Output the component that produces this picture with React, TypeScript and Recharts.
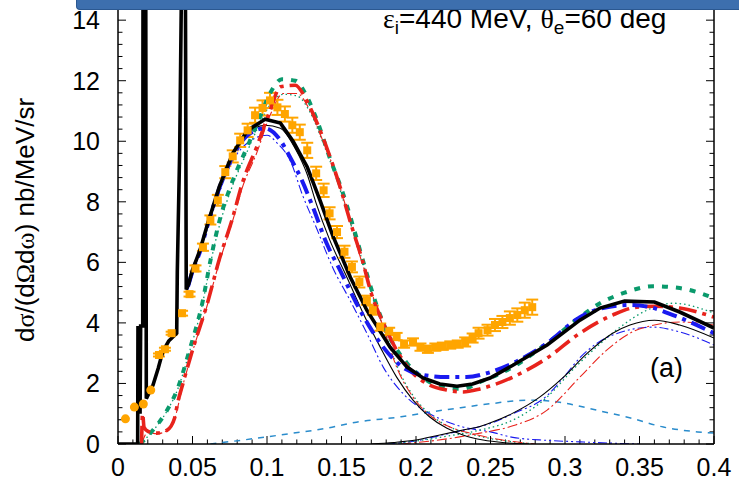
import React from 'react';
import { ComposedChart, Line, Scatter, XAxis, YAxis, ErrorBar, ReferenceLine } from 'recharts';

// ---------- data ----------
const xTicks = [0, 0.05, 0.1, 0.15, 0.2, 0.25, 0.3, 0.35, 0.4];
const yTicks = [0, 2, 4, 6, 8, 10, 12, 14];
const xMinorTicks = [0.01, 0.02, 0.03, 0.04, 0.06, 0.07, 0.08, 0.09, 0.11, 0.12, 0.13, 0.14, 0.16, 0.17, 0.18, 0.19, 0.21, 0.22, 0.23, 0.24, 0.26, 0.27, 0.28, 0.29, 0.31, 0.32, 0.33, 0.34, 0.36, 0.37, 0.38, 0.39];
const yMinorTicks = [0.4, 0.8, 1.2, 1.6, 2.4, 2.8, 3.2, 3.6, 4.4, 4.8, 5.2, 5.6, 6.4, 6.8, 7.2, 7.6, 8.4, 8.8, 9.2, 9.6, 10.4, 10.8, 11.2, 11.6, 12.4, 12.8, 13.2, 13.6, 14.4];

// total, full model (thick black)
const totalBlack = [
  [0, 0], [0.0132, 0], [0.0134, 3.9], [0.0148, 1.0], [0.0152, 3.9], [0.0166, 3.9], [0.0168, 16],
  [0.0186, 16], [0.019, 1.5],
  [0.0215, 1.75], [0.0235, 1.95], [0.027, 2.5], [0.03, 3.05], [0.034, 3.4], [0.0394, 3.66],
  [0.0398, 5.7], [0.0414, 9.7], [0.0428, 16], [0.0452, 16], [0.0458, 5.1], [0.0475, 5.3],
  [0.05, 5.75], [0.055, 6.4], [0.06, 7.25], [0.068, 8.5], [0.077, 9.6], [0.087, 10.36],
  [0.0987, 10.73], [0.109, 10.6], [0.1175, 10.0], [0.127, 9.15], [0.1356, 8.05], [0.144, 6.9],
  [0.156, 5.5], [0.167, 4.42], [0.1826, 3.2], [0.194, 2.54], [0.2047, 2.18], [0.216, 1.98],
  [0.2275, 1.91], [0.238, 1.98], [0.2497, 2.18], [0.265, 2.6], [0.288, 3.27], [0.31, 4.09],
  [0.3235, 4.49], [0.34, 4.72], [0.36, 4.69], [0.377, 4.36], [0.4, 3.83],
];
const totalRed = [
  [0.0158, 0], [0.0165, 1.0], [0.0175, 0.55], [0.02, 0.42], [0.026, 0.36], [0.033, 0.46],
  [0.038, 0.86], [0.04, 1.35], [0.0436, 2.0], [0.05, 3.1], [0.06, 4.65], [0.068, 6.1],
  [0.0765, 7.4], [0.084, 8.7], [0.093, 9.8], [0.102, 11.0], [0.109, 11.8], [0.119, 11.85],
  [0.1255, 11.45], [0.131, 10.9], [0.14, 9.8], [0.149, 8.5], [0.157, 7.16], [0.164, 6.07],
  [0.17, 4.98], [0.178, 4.0], [0.187, 3.1], [0.198, 2.34], [0.209, 1.95], [0.2208, 1.78],
  [0.2315, 1.72], [0.243, 1.82], [0.265, 2.21], [0.288, 2.84], [0.31, 3.66], [0.332, 4.26],
  [0.348, 4.52], [0.36, 4.55], [0.377, 4.49], [0.4, 4.19],
];
const totalGreen = [
  [0.0148, 0], [0.0235, 0.46], [0.033, 1.12], [0.0396, 1.78], [0.048, 3.1], [0.057, 4.75],
  [0.062, 6.05], [0.068, 7.35], [0.077, 8.7], [0.0866, 9.8], [0.0953, 10.8], [0.102, 11.58],
  [0.11, 12.05], [0.119, 12.0], [0.127, 11.45], [0.1335, 10.7], [0.142, 9.47], [0.151, 8.28],
  [0.158, 7.16], [0.163, 6.3], [0.174, 4.52], [0.18, 3.76], [0.194, 2.67], [0.205, 2.18],
  [0.218, 1.88], [0.231, 1.82], [0.243, 2.05], [0.265, 2.54], [0.288, 3.33], [0.31, 4.19],
  [0.3235, 4.65], [0.339, 4.98], [0.359, 5.21], [0.377, 5.15], [0.4, 4.82],
];
const totalBlue = [
  [0.047, 5.2], [0.05, 5.7], [0.055, 6.35], [0.06, 7.2], [0.068, 8.45], [0.077, 9.5],
  [0.087, 10.2], [0.0987, 10.43], [0.109, 10.03], [0.1155, 9.47], [0.1235, 8.7], [0.131, 7.8],
  [0.14, 6.63], [0.149, 5.74], [0.16, 4.65], [0.169, 3.86], [0.178, 3.2], [0.191, 2.54],
  [0.205, 2.28], [0.2208, 2.21], [0.234, 2.21], [0.2477, 2.34], [0.265, 2.67], [0.288, 3.33],
  [0.31, 4.19], [0.3255, 4.49], [0.3436, 4.59], [0.357, 4.52], [0.3725, 4.26], [0.4, 3.66],
];

// quasi-elastic components (thin)
const qeBlack = [
  [0.047, 5.2], [0.05, 5.75], [0.055, 6.4], [0.06, 7.25], [0.068, 8.5], [0.077, 9.55],
  [0.087, 10.25], [0.0987, 10.53], [0.109, 10.43], [0.119, 9.75], [0.127, 8.9], [0.133, 7.95],
  [0.142, 6.75], [0.1537, 5.5], [0.1645, 4.32], [0.176, 3.2], [0.187, 2.21], [0.198, 1.45],
  [0.209, 0.9], [0.2208, 0.52], [0.2315, 0.3], [0.245, 0.13], [0.26, 0.04], [0.275, 0],
];
const qeRed = [
  [0.0158, 0], [0.02, 0.38], [0.026, 0.34], [0.033, 0.44], [0.038, 0.84], [0.0436, 1.95],
  [0.05, 3.05], [0.06, 4.6], [0.068, 6.0], [0.0765, 7.3], [0.084, 8.55], [0.093, 9.6],
  [0.102, 10.85], [0.111, 11.58], [0.12, 11.58], [0.129, 11.0], [0.1376, 10.0], [0.147, 8.8],
  [0.156, 7.3], [0.16, 6.6], [0.169, 5.2], [0.178, 3.86], [0.187, 2.54], [0.198, 1.55],
  [0.209, 0.96], [0.2228, 0.56], [0.236, 0.36], [0.25, 0.2], [0.265, 0.08], [0.28, 0],
];
const qeGreen = [
  [0.0148, 0], [0.0235, 0.44], [0.033, 1.1], [0.0396, 1.75], [0.048, 3.05], [0.057, 4.7],
  [0.062, 5.95], [0.068, 7.2], [0.077, 8.55], [0.0866, 9.65], [0.0953, 10.6], [0.102, 11.2],
  [0.111, 11.55], [0.12, 11.5], [0.129, 10.95], [0.1376, 9.95], [0.147, 8.7], [0.156, 7.3],
  [0.165, 5.9], [0.174, 4.4], [0.18, 3.6], [0.187, 2.6], [0.198, 1.6], [0.209, 1.0],
  [0.2228, 0.56], [0.236, 0.34], [0.25, 0.18], [0.265, 0.07], [0.28, 0],
];
const qeBlue = [
  [0.047, 5.1], [0.05, 5.6], [0.06, 7.1], [0.068, 8.3], [0.077, 9.35], [0.087, 9.95],
  [0.1, 10.2], [0.107, 9.93], [0.1155, 9.37], [0.124, 8.2], [0.1335, 7.1], [0.14, 6.3],
  [0.144, 5.84], [0.1557, 4.75], [0.167, 3.66], [0.178, 2.54], [0.191, 1.68], [0.205, 1.12],
  [0.218, 0.79], [0.2315, 0.56], [0.25, 0.4], [0.265, 0.22], [0.288, 0.12], [0.31, 0.07],
  [0.33, 0.03], [0.35, 0],
];

// delta components (thin)
const deltaBlack = [
  [0.17, 0], [0.185, 0.05], [0.2, 0.13], [0.216, 0.3], [0.2315, 0.46], [0.243, 0.58],
  [0.25, 0.7], [0.265, 1.02], [0.283, 1.55], [0.299, 2.21], [0.315, 3.0], [0.332, 3.66],
  [0.3436, 3.93], [0.36, 4.09], [0.377, 3.93], [0.4, 3.5],
];
const deltaRed = [
  [0.19, 0], [0.21, 0.1], [0.225, 0.2], [0.243, 0.36], [0.265, 0.6], [0.288, 1.12],
  [0.31, 2.21], [0.328, 3.1], [0.3436, 3.66], [0.36, 3.93], [0.377, 4.03], [0.4, 3.93],
];
const deltaGreen = [
  [0.18, 0], [0.2, 0.1], [0.22, 0.25], [0.243, 0.46], [0.265, 0.79], [0.288, 1.55],
  [0.305, 2.44], [0.321, 3.2], [0.337, 3.86], [0.355, 4.42], [0.3725, 4.65], [0.4, 4.32],
];
const deltaBlue = [
  [0.18, 0], [0.2, 0.1], [0.216, 0.28], [0.2315, 0.45], [0.25, 0.68], [0.265, 1.0],
  [0.288, 1.6], [0.299, 2.2], [0.31, 2.85], [0.332, 3.6], [0.359, 3.86], [0.377, 3.7], [0.4, 3.27],
];

// broad component (light blue dashed)
const broadComp = [
  [0.062, 0], [0.09, 0.17], [0.115, 0.34], [0.14, 0.52], [0.16, 0.72], [0.19, 0.9],
  [0.205, 1.02], [0.23, 1.2], [0.25, 1.33], [0.275, 1.45], [0.29, 1.42], [0.3, 1.35],
  [0.321, 1.12], [0.344, 0.86], [0.366, 0.56], [0.389, 0.4], [0.4, 0.36],
];

// experimental data [x, y, err]
const expLow = [
  [0.005, 0.83, 0], [0.011, 1.22, 0], [0.017, 1.32, 0], [0.022, 1.78, 0],
];
const expData = [
  [0.0275, 2.94, 0.05], [0.0315, 3.13, 0.05], [0.036, 3.66, 0.05], [0.043, 4.32, 0.08],
  [0.048, 4.95, 0.08], [0.052, 5.8, 0.1], [0.057, 6.5, 0.12], [0.062, 7.4, 0.15],
  [0.067, 8.05, 0.18], [0.072, 8.98, 0.2], [0.077, 9.5, 0.2], [0.082, 10.03, 0.22],
  [0.087, 10.36, 0.22], [0.092, 10.86, 0.25], [0.097, 11.1, 0.25], [0.102, 11.35, 0.25],
  [0.107, 11.12, 0.25], [0.112, 10.9, 0.25], [0.117, 10.53, 0.25], [0.122, 10.3, 0.25],
  [0.127, 9.7, 0.25], [0.133, 8.94, 0.22], [0.138, 8.38, 0.22], [0.142, 7.62, 0.2],
  [0.147, 7.0, 0.2], [0.152, 6.35, 0.2], [0.157, 5.85, 0.18], [0.162, 5.35, 0.18],
  [0.167, 4.75, 0.15], [0.171, 4.42, 0.15], [0.176, 3.86, 0.12], [0.182, 3.72, 0.12],
  [0.187, 3.55, 0.12], [0.192, 3.3, 0.12], [0.198, 3.37, 0.12], [0.203, 3.2, 0.12],
  [0.208, 3.13, 0.12], [0.213, 3.2, 0.12], [0.218, 3.23, 0.12], [0.223, 3.27, 0.12],
  [0.228, 3.3, 0.12], [0.233, 3.37, 0.15], [0.238, 3.5, 0.15], [0.242, 3.66, 0.18],
  [0.248, 3.76, 0.18], [0.253, 3.93, 0.2], [0.258, 4.03, 0.2], [0.263, 4.16, 0.22],
  [0.268, 4.26, 0.22], [0.273, 4.42, 0.25], [0.278, 4.52, 0.25],
];

// ---------- helpers ----------
const pts = (arr: number[][]) => arr.map(([x, y]) => ({ x, y }));
const expPts = (arr: number[][]) => arr.map(([x, y, err]) => ({ x, y, err }));

const FONT = "'Liberation Sans', Arial, Helvetica, sans-serif";
const SERIF = "'Liberation Serif', 'Times New Roman', serif";
const RED = '#e8231c';
const GREEN = '#0a9a6c';
const BLUE = '#1a1af0';
const LIGHTBLUE = '#2a8ccc';
const ORANGE = '#ffa500';

const Square = (props: any) => {
  const { cx, cy } = props;
  if (cx == null || cy == null) return null;
  return <rect x={cx - 4} y={cy - 4} width={8} height={8} fill={ORANGE} />;
};
const Dot = (props: any) => {
  const { cx, cy } = props;
  if (cx == null || cy == null) return null;
  return <circle cx={cx} cy={cy} r={4.5} fill={ORANGE} />;
};

export default function App() {
  return (
    <div style={{ position: 'absolute', left: 0, top: 0, width: 739, height: 486, overflow: 'hidden', background: '#fff' }}>
      <ComposedChart width={739} height={486} margin={{ top: 2, right: 0, bottom: 0, left: 0 }}>
        <XAxis
          dataKey="x"
          type="number"
          domain={[0, 0.4]}
          ticks={xTicks}
          interval={0}
          allowDataOverflow
          height={42}
          tickSize={-8}
          tickMargin={22}
          axisLine={{ stroke: '#000', strokeWidth: 1.5 }}
          tickLine={{ stroke: '#000', strokeWidth: 1 }}
          tick={{ fill: '#000', fontSize: 25, fontFamily: FONT }}
          tickFormatter={(v: number) => String(v)}
        />
        <YAxis
          yAxisId="l"
          type="number"
          domain={[0, 14.6]}
          ticks={yTicks}
          interval={0}
          allowDataOverflow
          width={118}
          tickSize={-8}
          tickMargin={26}
          axisLine={{ stroke: '#000', strokeWidth: 1.5 }}
          tickLine={{ stroke: '#000', strokeWidth: 1 }}
          tick={{ fill: '#000', fontSize: 25, fontFamily: FONT }}
        />
        <YAxis
          yAxisId="r"
          orientation="right"
          type="number"
          domain={[0, 14.6]}
          ticks={yTicks}
          interval={0}
          allowDataOverflow
          width={25}
          tickSize={-8}
          axisLine={{ stroke: '#000', strokeWidth: 1.5 }}
          tickLine={{ stroke: '#000', strokeWidth: 1 }}
          tickFormatter={() => ''}
        />

        {xMinorTicks.map((v) => (
          <ReferenceLine key={'xm' + v} yAxisId="l" segment={[{ x: v, y: 0 }, { x: v, y: 0.15 }]} stroke="#000" strokeWidth={1} />
        ))}
        {yMinorTicks.map((v) => (
          <ReferenceLine key={'ylm' + v} yAxisId="l" segment={[{ x: 0, y: v }, { x: 0.003, y: v }]} stroke="#000" strokeWidth={1} />
        ))}
        {yMinorTicks.map((v) => (
          <ReferenceLine key={'yrm' + v} yAxisId="l" segment={[{ x: 0.397, y: v }, { x: 0.4, y: v }]} stroke="#000" strokeWidth={1} />
        ))}

        {/* thin component curves */}
        <Line yAxisId="l" data={pts(broadComp)} dataKey="y" type="monotone" stroke={LIGHTBLUE} strokeWidth={1.5} strokeDasharray="6 6" dot={false} activeDot={false} isAnimationActive={false} />
        <Line yAxisId="l" data={pts(qeBlue)} dataKey="y" type="monotone" stroke={BLUE} strokeWidth={1.1} strokeDasharray="9 3 2 3 2 3" dot={false} activeDot={false} isAnimationActive={false} />
        <Line yAxisId="l" data={pts(deltaBlue)} dataKey="y" type="monotone" stroke={BLUE} strokeWidth={1.1} strokeDasharray="9 3 2 3 2 3" dot={false} activeDot={false} isAnimationActive={false} />
        <Line yAxisId="l" data={pts(qeGreen)} dataKey="y" type="monotone" stroke={GREEN} strokeWidth={1.3} strokeDasharray="1.5 3" dot={false} activeDot={false} isAnimationActive={false} />
        <Line yAxisId="l" data={pts(deltaGreen)} dataKey="y" type="monotone" stroke={GREEN} strokeWidth={1.3} strokeDasharray="1.5 3" dot={false} activeDot={false} isAnimationActive={false} />
        <Line yAxisId="l" data={pts(qeRed)} dataKey="y" type="monotone" stroke={RED} strokeWidth={1.1} strokeDasharray="10 3 2 3" dot={false} activeDot={false} isAnimationActive={false} />
        <Line yAxisId="l" data={pts(deltaRed)} dataKey="y" type="monotone" stroke={RED} strokeWidth={1.1} strokeDasharray="10 3 2 3" dot={false} activeDot={false} isAnimationActive={false} />
        <Line yAxisId="l" data={pts(qeBlack)} dataKey="y" type="monotone" stroke="#000" strokeWidth={1.1} dot={false} activeDot={false} isAnimationActive={false} />
        <Line yAxisId="l" data={pts(deltaBlack)} dataKey="y" type="monotone" stroke="#000" strokeWidth={1.1} dot={false} activeDot={false} isAnimationActive={false} />

        {/* experimental data */}
        <Scatter yAxisId="l" data={expPts(expLow)} dataKey="y" shape={Dot} isAnimationActive={false} />
        <Scatter yAxisId="l" data={expPts(expData)} dataKey="y" shape={Square} isAnimationActive={false}>
          <ErrorBar dataKey="err" direction="y" width={6} stroke={ORANGE} strokeWidth={2} />
        </Scatter>

        {/* thick full-model curves */}
        <Line yAxisId="l" data={pts(totalGreen)} dataKey="y" type="monotone" stroke={GREEN} strokeWidth={4} strokeDasharray="6 8" dot={false} activeDot={false} isAnimationActive={false} />
        <Line yAxisId="l" data={pts(totalRed)} dataKey="y" type="monotone" stroke={RED} strokeWidth={3.6} strokeDasharray="18 6 4 6" dot={false} activeDot={false} isAnimationActive={false} />
        <Line yAxisId="l" data={pts(totalBlue)} dataKey="y" type="monotone" stroke={BLUE} strokeWidth={4} strokeDasharray="15 6 4 6" dot={false} activeDot={false} isAnimationActive={false} />
        <Line yAxisId="l" data={pts(totalBlack)} dataKey="y" type="linear" stroke="#000" strokeWidth={3.6} strokeLinejoin="miter" dot={false} activeDot={false} isAnimationActive={false} />
      </ComposedChart>

      <svg width={739} height={486} style={{ position: 'absolute', left: 0, top: 0, pointerEvents: 'none' }}>
        <text x={383} y={28} fontSize={28} fontFamily={FONT} fill="#000">
          <tspan fontFamily={SERIF}>ε</tspan>
          <tspan fontSize={19} dy={6}>i</tspan>
          <tspan dy={-6}>=440 MeV, </tspan>
          <tspan fontFamily={SERIF}>θ</tspan>
          <tspan fontSize={19} dy={6}>e</tspan>
          <tspan dy={-6}>=60 deg</tspan>
        </text>
        <text transform="translate(34,220) rotate(-90)" textAnchor="middle" fontSize={26} fontFamily={FONT} fill="#000">
          d<tspan fontFamily={SERIF}>σ</tspan>/(d<tspan fontFamily={SERIF}>Ω</tspan>d<tspan fontFamily={SERIF}>ω</tspan>) nb/MeV/sr
        </text>
        <text x={650} y={377} fontSize={27} fontFamily={FONT} fill="#000">(a)</text>
      </svg>
      <div
        style={{
          position: 'absolute',
          left: 76,
          top: -4,
          width: 680,
          height: 13,
          background: '#3d6fae',
          borderBottom: '1.5px solid #2b5891',
          borderLeft: '1.5px solid #2b5891',
          borderBottomLeftRadius: 4,
        }}
      />
    </div>
  );
}
